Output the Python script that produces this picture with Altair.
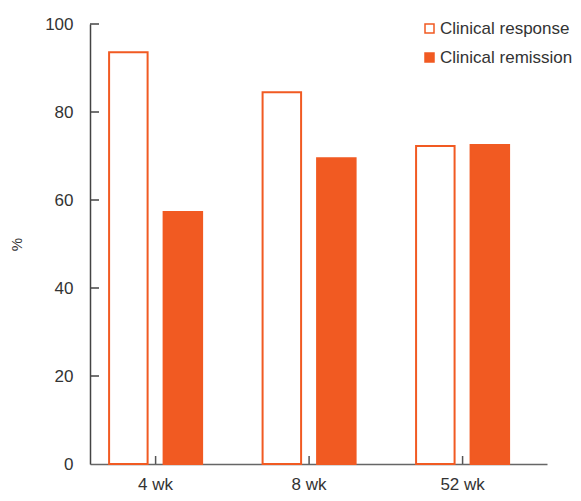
import altair as alt
import pandas as pd

categories = ["4 wk", "8 wk", "52 wk"]
series = ["Clinical response", "Clinical remission"]
response = [93.6, 84.5, 72.3]
remission = [57.3, 69.5, 72.5]
y_ticks = [20, 40, 60, 80, 100]

ORANGE = "#F15A22"
W, H = 457, 440

rows = []
for c, r, m in zip(categories, response, remission):
    rows.append({"cat": c, "series": series[0], "v": r})
    rows.append({"cat": c, "series": series[1], "v": m})
df = pd.DataFrame(rows)

xscale = alt.Scale(domain=categories, paddingInner=0.394, paddingOuter=0.1857, align=0.335)
yscale = alt.Scale(domain=[0, 100])

bars = alt.Chart(df).mark_bar(stroke=ORANGE, strokeWidth=2).encode(
    x=alt.X("cat:N", scale=xscale, sort=categories,
            axis=alt.Axis(title=None, labelAngle=0, ticks=False, tickSize=0,
                          labelPadding=12, labelFontSize=17, labelColor="#333333",
                          domainColor="#666666", domainWidth=1.5, labelFont="Liberation Sans")),
    xOffset=alt.XOffset("series:N", sort=series,
                        scale=alt.Scale(domain=series, paddingInner=0.2936, paddingOuter=0)),
    y=alt.Y("v:Q", scale=yscale,
            axis=alt.Axis(title="%", values=y_ticks + [0], ticks=False, tickSize=0, grid=False,
                          labelPadding=17, labelFontSize=17, labelColor="#333333",
                          labelFont="Liberation Sans", titleFont="Liberation Sans",
                          titleFontSize=15, titleFontWeight="normal", titleColor="#333333",
                          titlePadding=20, domainColor="#444444", domainWidth=1.5)),
    fill=alt.Fill("series:N", sort=series,
                  scale=alt.Scale(domain=series, range=["#ffffff", ORANGE]),
                  legend=alt.Legend(title=None, orient="none", legendX=331, legendY=-4,
                                    symbolType="square", symbolSize=81,
                                    symbolStrokeColor=ORANGE, symbolStrokeWidth=1.5,
                                    labelFontSize=17, labelFont="Liberation Sans",
                                    labelColor="#333333", labelOffset=2, rowPadding=11,
                                    padding=0)),
)

ytick_df = pd.DataFrame({"v": y_ticks})
yt = alt.Chart(ytick_df).mark_rule(color="#444444", strokeWidth=1.5).encode(
    y=alt.Y("v:Q", scale=yscale),
    x=alt.value(0),
    x2=alt.value(9),
)

xtick_df = pd.DataFrame({"cat": categories})
xt = alt.Chart(xtick_df).mark_rule(color="#555555", strokeWidth=1.5).encode(
    x=alt.X("cat:N", scale=xscale, sort=categories),
    y=alt.value(H),
    y2=alt.value(H - 8),
)

chart = alt.layer(bars, yt, xt).properties(
    width=W, height=H,
    autosize=alt.AutoSizeParams(type="none"),
    padding={"left": 82, "top": 16, "right": 26, "bottom": 28},
).configure_view(stroke=None).configure_axis(grid=False)

chart.save("out.html", embed_options={"renderer": "svg", "actions": False})
